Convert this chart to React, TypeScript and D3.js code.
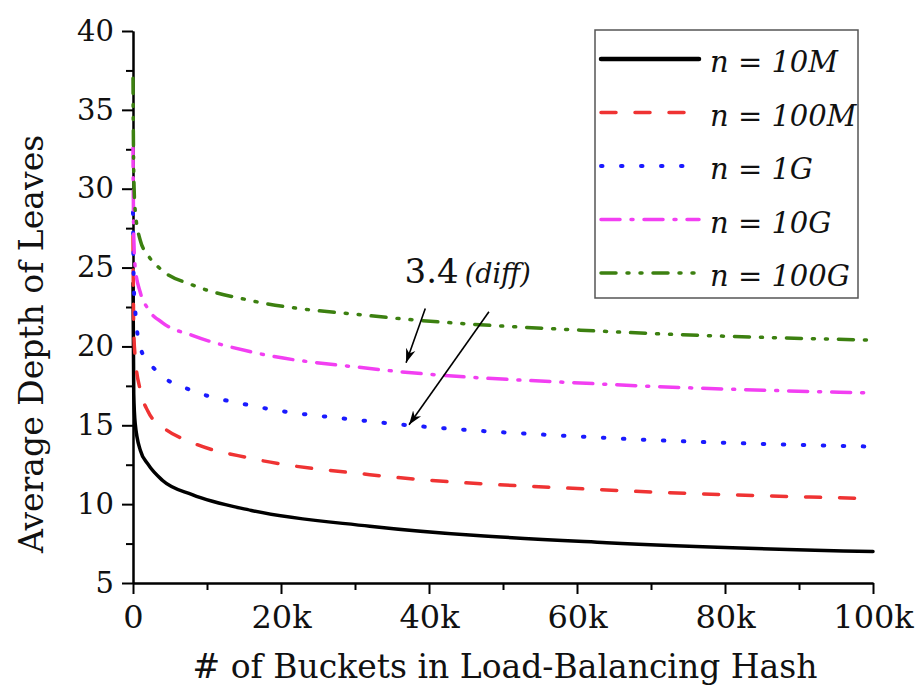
import React, { useEffect, useRef } from "react";
import * as d3 from "d3";

// number of buckets (x) and average leaf depth per table size
const buckets = [1, 100, 300, 1000, 2000, 4000, 8000, 16000, 32000, 64000, 100000];
const depth10M = [24, 17, 15.1, 13.4, 12.55, 11.5, 10.6, 9.6, 8.6, 7.55, 7.0];
const depth100M = [27, 21, 19.3, 17.2, 15.9, 14.9, 13.9, 12.9, 11.87, 10.9, 10.35];
const depth1G = [28.5, 24, 22.3, 19.9, 19.1, 18.1, 17.2, 16.25, 15.25, 14.2, 13.65];
const depth10G = [32.6, 27, 25, 23.4, 22.4, 21.5, 20.7, 19.65, 18.6, 17.6, 17.05];
const depth100G = [37, 31, 28.6, 26.7, 25.8, 24.8, 23.9, 22.9, 21.95, 20.95, 20.4];

const seriesLabels = ["n = 10M", "n = 100M", "n = 1G", "n = 10G", "n = 100G"];

const xTicks = [0, 20000, 40000, 60000, 80000, 100000];
const xTickLabels = ["0", "20k", "40k", "60k", "80k", "100k"];
const xMinorTicks = [10000, 30000, 50000, 70000, 90000];
const yTicks = [5, 10, 15, 20, 25, 30, 35, 40];
const yMinorTicks = [7.5, 12.5, 17.5, 22.5, 27.5, 32.5, 37.5];

// annotation "3.4 (diff)": text anchor and two arrows, in data units
const noteAt = [36700, 24.0];
const arrowStarts = [[39500, 22.4], [48100, 22.2]];
const arrowEnds = [[36900, 18.97], [37300, 15.03]];

const lineStyles = [
  { color: "#000000", dash: null, width: 3.5 },
  { color: "#ef3333", dash: "15 19", width: 3.5 },
  { color: "#1a1aff", dash: "1.5 18.5", width: 4 },
  { color: "#f23ff2", dash: "19 11 2 11", width: 3.5 },
  { color: "#3c8010", dash: "15 11 2 11 2 11", width: 3.5 },
];

const FONT = "'DejaVu Serif', serif";

export default function App() {
  const ref = useRef<SVGSVGElement | null>(null);

  useEffect(() => {
    if (!ref.current) return;
    const svg = d3.select(ref.current);
    svg.selectAll("*").remove();

    const x = d3.scaleLinear().domain([0, 100000]).range([133, 873]);
    const y = d3.scaleLinear().domain([5, 40]).range([583, 31]);

    const series = [depth10M, depth100M, depth1G, depth10G, depth100G];

    // axes
    const yAxis = svg.append("g").attr("transform", `translate(${x(0)},0)`);
    yAxis.call(
      d3.axisLeft(y).tickValues(yTicks).tickSize(11).tickSizeOuter(0).tickFormat(d3.format("d")) as any
    );
    yAxis.append("g").call(
      d3.axisLeft(y).tickValues(yMinorTicks).tickSize(7).tickSizeOuter(0).tickFormat(() => "") as any
    );
    const xAxis = svg.append("g").attr("transform", `translate(0,${y(5)})`);
    xAxis.call(
      d3
        .axisBottom(x)
        .tickValues(xTicks)
        .tickSize(11)
        .tickSizeOuter(0)
        .tickFormat((d, i) => xTickLabels[i]) as any
    );
    xAxis.append("g").call(
      d3.axisBottom(x).tickValues(xMinorTicks).tickSize(7).tickSizeOuter(0).tickFormat(() => "") as any
    );

    svg.selectAll(".domain").attr("stroke", "#000").attr("stroke-width", 2);
    svg.selectAll(".tick line").attr("stroke", "#000").attr("stroke-width", 2);
    yAxis
      .selectAll(".tick text")
      .attr("font-family", FONT)
      .attr("font-size", 29)
      .attr("fill", "#111")
      .attr("x", -19);
    xAxis
      .selectAll(".tick text")
      .attr("font-family", FONT)
      .attr("font-size", 32)
      .attr("fill", "#111")
      .attr("y", 22);

    // axis titles
    svg
      .append("text")
      .attr("transform", "translate(43,344) rotate(-90)")
      .attr("text-anchor", "middle")
      .attr("font-family", FONT)
      .attr("font-size", 33)
      .attr("fill", "#111")
      .text("Average Depth of Leaves");
    svg
      .append("text")
      .attr("x", 505)
      .attr("y", 678)
      .attr("text-anchor", "middle")
      .attr("font-family", FONT)
      .attr("font-size", 33)
      .attr("fill", "#111")
      .text("# of Buckets in Load-Balancing Hash");

    // curves
    const line = d3
      .line<number>()
      .x((d, i) => x(buckets[i]))
      .y((d) => y(d))
      .curve(d3.curveMonotoneX);

    series.forEach((vals, i) => {
      const st = lineStyles[i];
      const p = svg
        .append("path")
        .attr("d", line(vals))
        .attr("fill", "none")
        .attr("stroke", st.color)
        .attr("stroke-width", st.width)
        .attr("stroke-linecap", "round")
        .attr("stroke-linejoin", "round");
      if (st.dash) p.attr("stroke-dasharray", st.dash);
    });

    // legend
    svg
      .append("rect")
      .attr("x", 595)
      .attr("y", 30)
      .attr("width", 263)
      .attr("height", 268)
      .attr("fill", "#fff")
      .attr("stroke", "#555")
      .attr("stroke-width", 1.5);
    seriesLabels.forEach((label, i) => {
      const st = lineStyles[i];
      const ry = 59 + i * 53.5;
      const l = svg
        .append("line")
        .attr("x1", 601)
        .attr("x2", 699)
        .attr("y1", ry)
        .attr("y2", ry)
        .attr("stroke", st.color)
        .attr("stroke-width", i === 0 ? 4.5 : st.width)
        .attr("stroke-linecap", "round");
      if (st.dash) l.attr("stroke-dasharray", st.dash);
      svg
        .append("text")
        .attr("x", 710)
        .attr("y", ry + 13)
        .attr("font-family", FONT)
        .attr("font-style", "italic")
        .attr("font-size", 29)
        .attr("fill", "#111")
        .text(label);
    });

    // annotation
    const defs = svg.append("defs");
    defs
      .append("marker")
      .attr("id", "arrowhead")
      .attr("viewBox", "0 0 10 10")
      .attr("refX", 10)
      .attr("refY", 5)
      .attr("markerWidth", 14)
      .attr("markerHeight", 14)
      .attr("markerUnits", "userSpaceOnUse")
      .attr("orient", "auto")
      .append("path")
      .attr("d", "M0,1.5 L10,5 L0,8.5 L3,5 Z")
      .attr("fill", "#000");

    arrowStarts.forEach((s, i) => {
      const e = arrowEnds[i];
      svg
        .append("line")
        .attr("x1", x(s[0]))
        .attr("y1", y(s[1]))
        .attr("x2", x(e[0]))
        .attr("y2", y(e[1]))
        .attr("stroke", "#000")
        .attr("stroke-width", 1.6)
        .attr("marker-end", "url(#arrowhead)");
    });

    const note = svg
      .append("text")
      .attr("x", x(noteAt[0]))
      .attr("y", y(noteAt[1]))
      .attr("font-family", FONT)
      .attr("fill", "#111");
    note.append("tspan").attr("font-size", 34).text("3.4");
    note
      .append("tspan")
      .attr("font-size", 27)
      .attr("font-style", "italic")
      .attr("dx", 6)
      .text("(diff)");
  }, []);

  return (
    <svg
      ref={ref}
      width={917}
      height={696}
      style={{ position: "absolute", left: 0, top: 0, background: "#fff" }}
    />
  );
}
